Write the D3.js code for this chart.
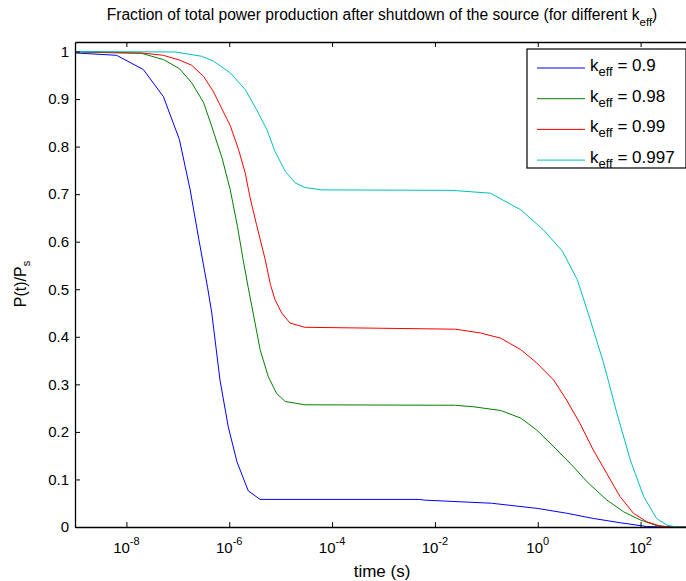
<!DOCTYPE html>
<html>
<head>
<meta charset="utf-8">
<script src="https://cdn.jsdelivr.net/npm/d3@7"></script>
<style>
  body { margin: 0; background: #fff; }
  svg text { font-family: "Liberation Sans", Arial, Helvetica, sans-serif; fill: #000; }
</style>
</head>
<body>
<svg class="chart" width="686" height="581"></svg>
<script>
// time values stored as log10(t)
var logT_09  = [-9, -8.19, -7.67, -7.28, -6.97, -6.76, -6.59, -6.42, -6.34, -6.18, -6.02, -5.85, -5.63, -5.40, -2.3, -2.2, -0.9, 0, 0.56, 1.08, 1.6, 2.12, 2.5, 3];
var p_09     = [0.997, 0.992, 0.962, 0.905, 0.815, 0.709, 0.604, 0.503, 0.45, 0.309, 0.211, 0.137, 0.076, 0.058, 0.058, 0.0565, 0.050, 0.039, 0.029, 0.018, 0.009, 0.001, 0, 0];

var logT_098 = [-9, -7.70, -7.28, -6.97, -6.73, -6.50, -6.33, -6.14, -5.98, -5.84, -5.73, -5.63, -5.56, -5.40, -5.24, -5.08, -4.91, -4.53, -1.6, -1.26, -0.72, -0.33, -0.02, 0.31, 0.63, 0.96, 1.34, 1.67, 1.99, 2.31, 2.6, 3];
var p_098    = [0.999, 0.996, 0.983, 0.964, 0.934, 0.893, 0.839, 0.776, 0.709, 0.632, 0.562, 0.503, 0.464, 0.373, 0.316, 0.281, 0.264, 0.257, 0.256, 0.253, 0.245, 0.229, 0.204, 0.169, 0.134, 0.095, 0.057, 0.032, 0.015, 0.003, 0, 0];

var logT_099 = [-9, -7.70, -7.28, -6.97, -6.73, -6.50, -6.31, -6.15, -5.98, -5.82, -5.69, -5.60, -5.47, -5.30, -5.20, -5.11, -4.98, -4.82, -4.53, -1.6, -1.11, -0.72, -0.33, -0.02, 0.31, 0.56, 0.82, 1.08, 1.34, 1.60, 1.86, 2.12, 2.38, 2.6, 3];
var p_099    = [1.0, 0.997, 0.992, 0.982, 0.971, 0.948, 0.916, 0.881, 0.844, 0.794, 0.745, 0.695, 0.636, 0.562, 0.51, 0.478, 0.45, 0.429, 0.42, 0.416, 0.408, 0.397, 0.373, 0.345, 0.309, 0.267, 0.218, 0.162, 0.113, 0.064, 0.029, 0.011, 0.002, 0, 0];

var logT_0997 = [-9, -7.05, -6.54, -6.31, -5.98, -5.69, -5.47, -5.27, -5.11, -4.91, -4.72, -4.53, -4.2, -1.67, -0.92, -0.33, 0.11, 0.48, 0.77, 1.02, 1.28, 1.54, 1.80, 2.06, 2.31, 2.51, 2.7, 3];
var p_0997    = [1.0, 0.999, 0.990, 0.980, 0.955, 0.92, 0.878, 0.836, 0.79, 0.748, 0.724, 0.714, 0.709, 0.708, 0.702, 0.667, 0.625, 0.58, 0.52, 0.436, 0.345, 0.239, 0.141, 0.064, 0.018, 0.004, 0, 0];

var kLabels = ["0.9", "0.98", "0.99", "0.997"];
var colors = ["#0000ff", "#008000", "#ff0000", "#00bfbf"];

var xTickExp = [-8, -6, -4, -2, 0, 2];
var yTicks = [0, 0.1, 0.2, 0.3, 0.4, 0.5, 0.6, 0.7, 0.8, 0.9, 1];

var series = [
  {logT: logT_09,   p: p_09},
  {logT: logT_098,  p: p_098},
  {logT: logT_099,  p: p_099},
  {logT: logT_0997, p: p_0997}
];

var margin = {top: 42, left: 75},
    width = 617,   // axes box runs a bit past the right edge of the window
    height = 485;

var x = d3.scaleLog().domain([1e-9, 1e3]).range([0, width]);
var y = d3.scaleLinear().domain([0, 1.02]).range([height, 0]);

var svg = d3.select(".chart");
var g = svg.append("g").attr("transform", "translate(" + margin.left + "," + margin.top + ")");

// curves
var line = d3.line()
  .x(function(d) { return x(Math.pow(10, d[0])); })
  .y(function(d) { return y(d[1]); });

series.forEach(function(s, i) {
  var pts = s.logT.map(function(t, j) { return [t, s.p[j]]; });
  g.append("path")
    .datum(pts)
    .attr("fill", "none")
    .attr("stroke", colors[i])
    .attr("stroke-width", 1)
    .attr("d", line);
});

// axes (ticks pointing inward)
var tickVals = xTickExp.map(function(e) { return Math.pow(10, e); });

var xAx = g.append("g")
  .attr("transform", "translate(0," + height + ")")
  .call(d3.axisBottom(x).tickValues(tickVals).tickSizeInner(-5).tickSizeOuter(0).tickFormat(""));

var xTop = g.append("g")
  .call(d3.axisTop(x).tickValues(tickVals).tickSizeInner(-5).tickSizeOuter(0).tickFormat(""));

var yAx = g.append("g")
  .call(d3.axisLeft(y).tickValues(yTicks).tickSizeInner(-5).tickSizeOuter(0).tickPadding(6)
    .tickFormat(function(d) { return d3.format("")(+d.toFixed(1)); }));

[xAx, xTop, yAx].forEach(function(a) {
  a.select(".domain").attr("stroke", "#000").attr("stroke-width", 1.3);
  a.selectAll(".tick line").attr("stroke", "#000");
});
yAx.selectAll(".tick text").style("font-size", "15px").style("font-family", "Liberation Sans, Arial, sans-serif").attr("fill", "#000");

// x tick labels as 10^n
var xl = g.selectAll(".xlab")
  .data(xTickExp)
  .enter().append("text")
  .attr("class", "xlab")
  .attr("x", function(e) { return x(Math.pow(10, e)); })
  .attr("y", height + 26)
  .attr("text-anchor", "middle")
  .style("font-size", "15px");
xl.append("tspan").text("10");
xl.append("tspan").attr("dy", -8).style("font-size", "11px").text(function(e) { return e; });

// axis labels and title
g.append("text")
  .attr("x", 307)
  .attr("y", height + 50)
  .attr("text-anchor", "middle")
  .style("font-size", "17px")
  .text("time (s)");

var yl = svg.append("text")
  .attr("transform", "translate(26,284) rotate(-90)")
  .attr("text-anchor", "middle")
  .style("font-size", "16px");
yl.append("tspan").text("P(t)/P");
yl.append("tspan").attr("dy", 4).style("font-size", "11px").text("s");

var title = svg.append("text")
  .attr("x", 382)
  .attr("y", 20)
  .attr("text-anchor", "middle")
  .style("font-size", "15.6px");
title.append("tspan").text("Fraction of total power production after shutdown of the source (for different k");
title.append("tspan").attr("dy", 6).style("font-size", "11.5px").text("eff");
title.append("tspan").attr("dy", -6).text(")");

// legend
var leg = svg.append("g").attr("transform", "translate(527,49)");
leg.append("rect")
  .attr("width", 159).attr("height", 119)
  .attr("fill", "#fff").attr("stroke", "#000").attr("stroke-width", 1.2);

var items = leg.selectAll(".item")
  .data(kLabels)
  .enter().append("g")
  .attr("class", "item")
  .attr("transform", function(d, i) { return "translate(0," + (19 + i * 30.7) + ")"; });

items.append("line")
  .attr("x1", 10).attr("x2", 58)
  .attr("stroke", function(d, i) { return colors[i]; })
  .attr("stroke-width", 1);

var lt = items.append("text").attr("x", 63).attr("y", 3).style("font-size", "17px");
lt.append("tspan").text("k");
lt.append("tspan").attr("dy", 5).style("font-size", "13px").text("eff");
lt.append("tspan").attr("dy", -5).text(function(d) { return " = " + d; });
</script>
</body>
</html>
